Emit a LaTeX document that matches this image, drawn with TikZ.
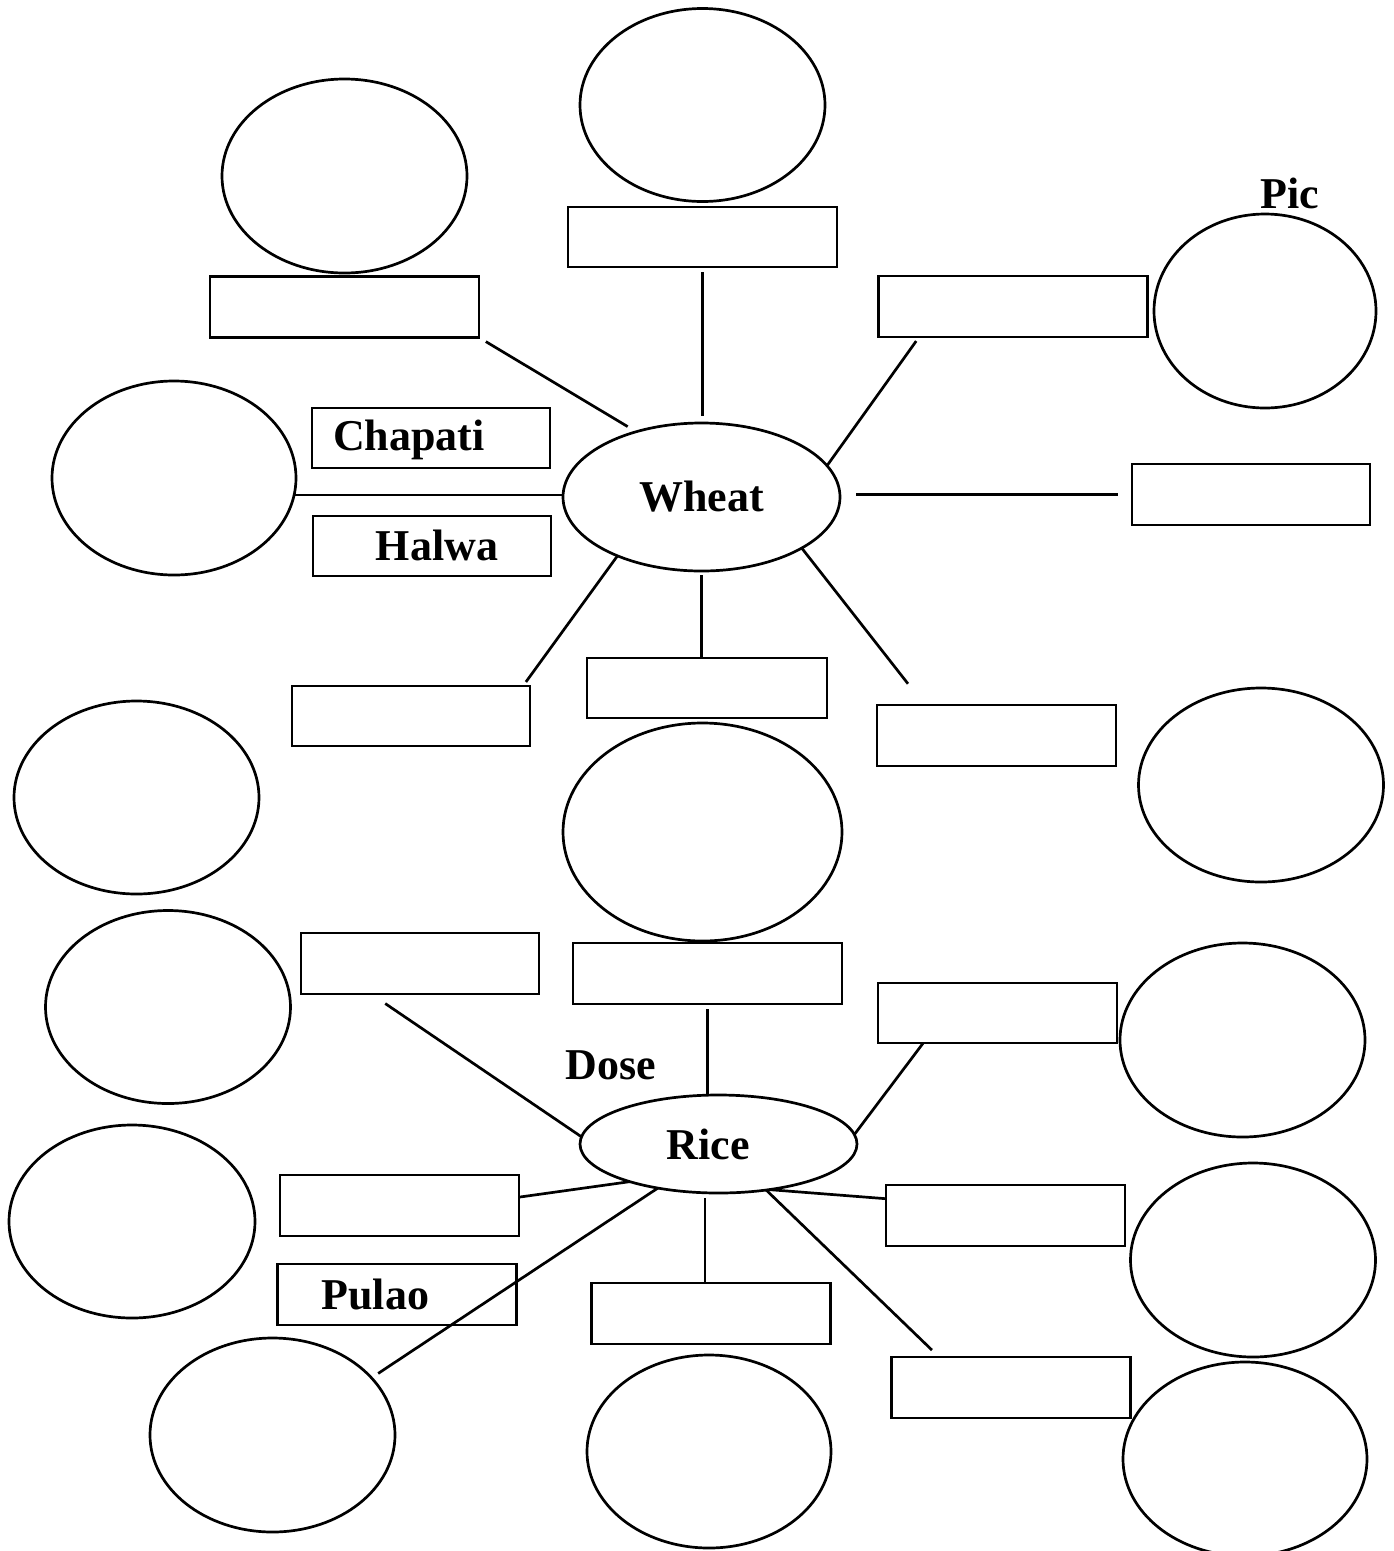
\documentclass[tikz,border=0pt]{standalone}
\usepackage{fontspec}
\setmainfont{Liberation Serif}
\usetikzlibrary{shapes.geometric,calc}
\tikzset{
  lw/.style={line width=2.7pt},
  ov/.style 2 args={draw, ellipse, lw, inner sep=0pt, outer sep=0pt, minimum width=#1pt, minimum height=#2pt,
    font=\fontsize{44}{50}\selectfont\bfseries},
  bx/.style 2 args={draw, rectangle, lw, inner sep=0pt, outer sep=0pt, minimum width=#1pt, minimum height=#2pt},
  conn/.style={lw},
  lbl/.style={inner sep=0pt, outer sep=0pt, font=\fontsize{44}{50}\selectfont\bfseries, anchor=base}
}
\begin{document}
\begin{tikzpicture}[x=1pt,y=-1pt]
\useasboundingbox (0,0) rectangle (1393,1551);
% ellipses / circles
\node[ov={245}{194}] (c1) at (344.5,176) {};
\node[ov={245}{193}] (c2) at (702.5,105) {};
\node[ov={222}{194}] (c3) at (1265,311) {};
\node[ov={244}{194}] (c4) at (174,478) {};
\node[ov={277}{148}] (wheat) at (701.5,497) {Wheat};
\node[ov={245}{193}] (c6) at (136.5,797.5) {};
\node[ov={279}{218}] (c7) at (702.5,832) {};
\node[ov={245}{194}] (c8) at (1261,785) {};
\node[ov={245}{193}] (c9) at (168,1007) {};
\node[ov={245}{194}] (c10) at (1242.5,1040) {};
\node[ov={277}{98}] (rice) at (718.5,1144) {Rice\hspace*{20pt}};
\node[ov={246}{193}] (c12) at (132,1221.5) {};
\node[ov={245}{194}] (c13) at (1253,1260) {};
\node[ov={245}{194}] (c14) at (272.5,1435) {};
\node[ov={244}{193}] (c15) at (709,1451.5) {};
\node[ov={244}{194}] (c16) at (1245,1459) {};
% boxes
\node[bx={269}{61}] (r1) at (344.5,307) {};
\node[bx={269}{60}] (r2) at (702.5,237) {};
\node[bx={269}{61}] (r3) at (1013,306.5) {};
\node[bx={238}{60}] (r4) at (431,438) {};
\node[bx={238}{60}] (r5) at (432,546) {};
\node[bx={238}{61}] (r6) at (1251,494.5) {};
\node[bx={238}{60}] (r7) at (411,716) {};
\node[bx={240}{60}] (r8) at (707,688) {};
\node[bx={239}{61}] (r9) at (996.5,735.5) {};
\node[bx={238}{61}] (r10) at (420,963.5) {};
\node[bx={269}{61}] (r11) at (707.5,973.5) {};
\node[bx={239}{60}] (r12) at (997.5,1013) {};
\node[bx={239}{61}] (r13) at (399.5,1205.5) {};
\node[bx={239}{61}] (r14) at (397,1294.5) {};
\node[bx={239}{61}] (r15) at (711,1313.5) {};
\node[bx={239}{61}] (r16) at (1005.5,1215.5) {};
\node[bx={239}{61}] (r17) at (1011,1387.5) {};
% labels
\node[lbl] (tchap) at (409,450) {Chapati};
\node[lbl] (thalwa) at (437,560.5) {Halwa};
\node[lbl] (tpic) at (1290,208.5) {Pic};
\node[lbl] (tdose) at (610.5,1079) {Dose};
\node[lbl] (tpulao) at (375.3,1309) {Pulao};
% wheat connectors
\draw[conn, shorten <=8pt, shorten >=10pt] (r1.south east) -- (wheat.135);
\draw[conn, shorten <=5pt, shorten >=7pt] (r2.south) -- (r2.south |- wheat.north);
\draw[conn, shorten <=5pt] (r3.198.3) -- (wheat.14.8);
\draw[conn] (c4.352.6) -- (c4.352.6 -| wheat.west);
\draw[conn, shorten <=16pt, shorten >=14pt] (wheat.east |- r6.west) -- (r6.west);
\draw[conn, shorten >=5pt] (wheat.215.4) -- (r7.15.4);
\draw[conn, shorten <=4pt] (wheat.south) -- (wheat.south |- r8.north);
\draw[conn, shorten >=27pt] (wheat.333.9) -- (r9.157.7);
% rice connectors
\draw[conn, shorten <=17pt] (r10.212) -- (rice.177);
\draw[conn, shorten <=5pt] (r11.south) -- (r11.south |- rice.north);
\draw[conn] (r12.202.3) -- (rice.4);
\draw[conn] (r13.4.8) -- (rice.203.2);
\draw[conn, shorten >=8pt] (rice.216.1) -- (c14.30.4);
\draw[conn, shorten >=5pt] (r15.101.3) -- (r15.101.3 |- rice.south);
\draw[conn, shorten >=10pt] (rice.316.2) -- (r17.157.7);
\draw[conn] (rice.318) -- (r16.172.8);
\end{tikzpicture}
\end{document}
